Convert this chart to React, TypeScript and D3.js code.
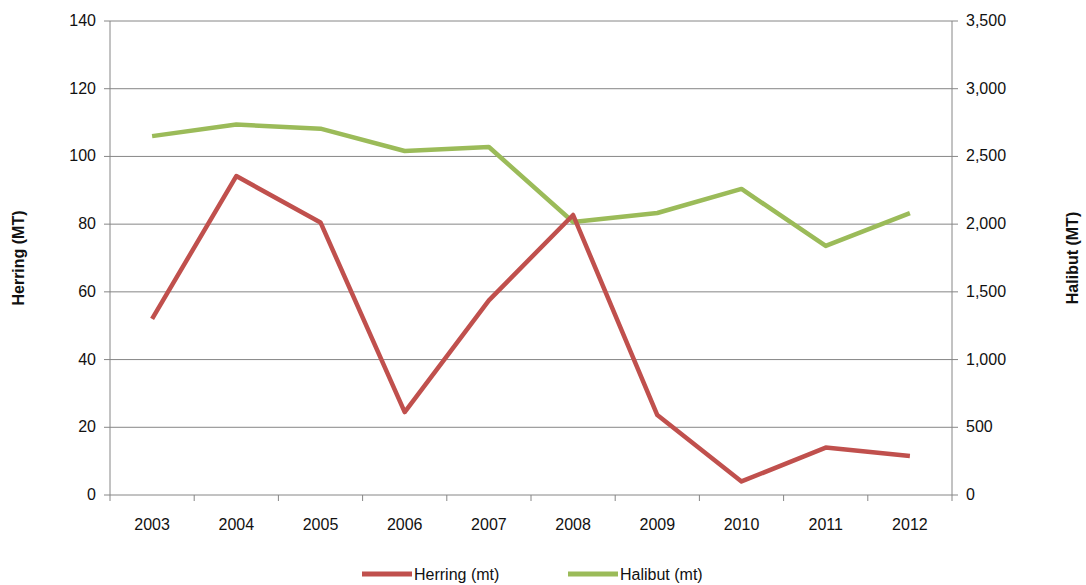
import React from "react";
import * as d3 from "d3";

const years = ["2003", "2004", "2005", "2006", "2007", "2008", "2009", "2010", "2011", "2012"];
const herring = [52, 94.2, 80.5, 24.5, 57.5, 82.7, 23.6, 4, 14, 11.5];
const halibut = [2650, 2735, 2705, 2540, 2570, 2016, 2082, 2260, 1839, 2082];
const leftTicks = [0, 20, 40, 60, 80, 100, 120, 140];
const rightTicks = [0, 500, 1000, 1500, 2000, 2500, 3000, 3500];

const W = 1086, H = 585;
const m = { left: 110, right: 134, top: 21, bottom: 90 };
const font = "'Liberation Sans', Arial, sans-serif";

export default function App() {
  const x = d3.scaleBand().domain(years).range([m.left, W - m.right]);
  const yL = d3.scaleLinear().domain([0, 140]).range([H - m.bottom, m.top]);
  const yR = d3.scaleLinear().domain([0, 3500]).range([H - m.bottom, m.top]);
  const cx = (d: string) => (x(d) ?? 0) + x.bandwidth() / 2;
  const lineL = d3.line<number>().x((_, i) => cx(years[i])).y((d) => yL(d));
  const lineR = d3.line<number>().x((_, i) => cx(years[i])).y((d) => yR(d));
  const fmt = d3.format(",");
  const bottom = H - m.bottom;
  return (
    <svg width={W} height={H} style={{ position: "absolute", left: 0, top: 0, background: "#fff" }} fontFamily={font}>
      {leftTicks.map((t) => (
        <line key={t} x1={m.left} x2={W - m.right} y1={yL(t)} y2={yL(t)} stroke="#868686" strokeWidth={1} />
      ))}
      <line x1={m.left} x2={m.left} y1={m.top} y2={bottom} stroke="#868686" />
      <line x1={W - m.right} x2={W - m.right} y1={m.top} y2={bottom} stroke="#868686" />
      {leftTicks.map((t) => (
        <g key={"l" + t}>
          <line x1={m.left - 6} x2={m.left} y1={yL(t)} y2={yL(t)} stroke="#868686" />
          <text x={m.left - 14} y={yL(t) + 5} textAnchor="end" fontSize={16} fill="#111">{t}</text>
        </g>
      ))}
      {rightTicks.map((t) => (
        <g key={"r" + t}>
          <line x1={W - m.right} x2={W - m.right + 6} y1={yR(t)} y2={yR(t)} stroke="#868686" />
          <text x={W - m.right + 14} y={yR(t) + 5} textAnchor="start" fontSize={16} fill="#111">{fmt(t)}</text>
        </g>
      ))}
      {years.map((y, i) => (
        <g key={y}>
          <line x1={x(y)} x2={x(y)} y1={bottom} y2={bottom + 6} stroke="#868686" />
          {i === years.length - 1 && (
            <line x1={W - m.right} x2={W - m.right} y1={bottom} y2={bottom + 6} stroke="#868686" />
          )}
          <text x={cx(y)} y={bottom + 35} textAnchor="middle" fontSize={16} fill="#111">{y}</text>
        </g>
      ))}
      <text transform={`translate(24,${(m.top + bottom) / 2}) rotate(-90)`} textAnchor="middle" fontSize={16} fontWeight="bold" fill="#111">Herring (MT)</text>
      <text transform={`translate(1078,${(m.top + bottom) / 2}) rotate(-90)`} textAnchor="middle" fontSize={16} fontWeight="bold" fill="#111">Halibut (MT)</text>
      <path d={lineR(halibut) ?? ""} fill="none" stroke="#9BBB59" strokeWidth={4.5} strokeLinejoin="round" />
      <path d={lineL(herring) ?? ""} fill="none" stroke="#C0504D" strokeWidth={4.5} strokeLinejoin="round" />
      <g fontSize={16} fill="#111">
        <line x1={362} x2={412} y1={574} y2={574} stroke="#C0504D" strokeWidth={5} />
        <text x={414} y={580}>Herring (mt)</text>
        <line x1={568} x2={618} y1={574} y2={574} stroke="#9BBB59" strokeWidth={5} />
        <text x={620} y={580}>Halibut (mt)</text>
      </g>
    </svg>
  );
}
